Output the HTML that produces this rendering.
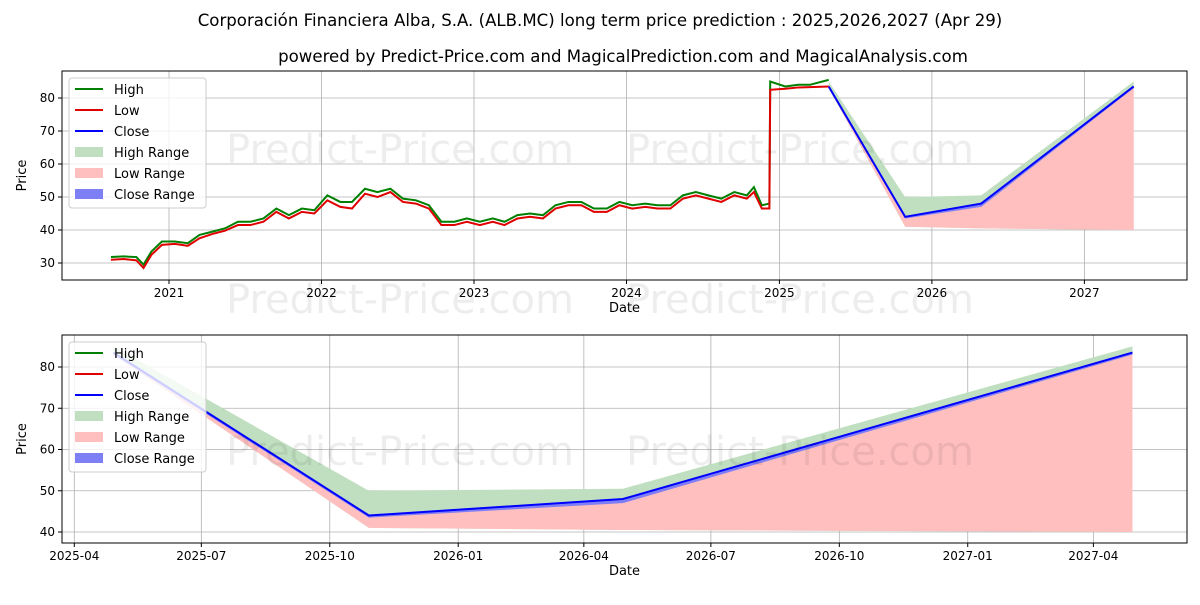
<!DOCTYPE html>
<html><head><meta charset="utf-8">
<style>
body{margin:0;background:#fff;font-family:"Liberation Sans","DejaVu Sans",sans-serif;}
svg text{font-family:"DejaVu Sans","Liberation Sans",sans-serif;}
</style></head>
<body>
<svg id="c" width="1200" height="600" xmlns="http://www.w3.org/2000/svg">
<rect width="1200" height="600" fill="#fff"/>
<text x="600" y="26" text-anchor="middle" font-size="16.6">Corporación Financiera Alba, S.A. (ALB.MC) long term price prediction : 2025,2026,2027 (Apr 29)</text>
<text x="623" y="62" text-anchor="middle" font-size="16.6">powered by Predict-Price.com and MagicalPrediction.com and MagicalAnalysis.com</text>
</svg>
<script>
// historic data
const histDates=["2020-08-15","2020-09-15","2020-10-15","2020-11-01","2020-11-20","2020-12-15","2021-01-15","2021-02-15","2021-03-15","2021-04-15","2021-05-15","2021-06-15","2021-07-15","2021-08-15","2021-09-15","2021-10-15","2021-11-15","2021-12-15","2022-01-15","2022-02-15","2022-03-15","2022-04-15","2022-05-15","2022-06-15","2022-07-15","2022-08-15","2022-09-15","2022-10-15","2022-11-15","2022-12-15","2023-01-15","2023-02-15","2023-03-15","2023-04-15","2023-05-15","2023-06-15","2023-07-15","2023-08-15","2023-09-15","2023-10-15","2023-11-15","2023-12-15","2024-01-15","2024-02-15","2024-03-15","2024-04-15","2024-05-15","2024-06-15","2024-07-15","2024-08-15","2024-09-15","2024-10-15","2024-11-01","2024-11-20","2024-12-08","2024-12-10","2025-01-15","2025-02-15","2025-03-15","2025-04-29"];
const histHigh=[31.8,32,31.8,29.5,33.5,36.5,36.5,36,38.5,39.5,40.5,42.5,42.5,43.5,46.5,44.5,46.5,46,50.5,48.5,48.5,52.5,51.5,52.5,49.5,49,47.5,42.5,42.5,43.5,42.5,43.5,42.5,44.5,45,44.5,47.5,48.5,48.5,46.5,46.5,48.5,47.5,48,47.5,47.5,50.5,51.5,50.5,49.5,51.5,50.5,53,47.5,48,85,83.5,84,84,85.5];
const histLow=[31,31.2,30.8,28.5,32.5,35.5,35.8,35.2,37.5,38.8,39.8,41.5,41.5,42.5,45.5,43.5,45.5,45,49,47,46.5,51,50,51.5,48.5,48,46.5,41.5,41.5,42.5,41.5,42.5,41.5,43.5,44,43.5,46.5,47.5,47.5,45.5,45.5,47.5,46.5,47,46.5,46.5,49.5,50.5,49.5,48.5,50.5,49.5,51.5,46.5,46.5,82.5,82.8,83.2,83.3,83.5];
// prediction data
const predDates=["2025-04-29","2025-10-29","2026-04-29","2027-04-29"];
const predHigh=[85,50,50.5,85];
const predLow=[83,41,40.5,40];
const predClose=[83.5,44,48,83.5];
const predCloseLow=[83,43.5,47,83];
const topTicksY=[30,40,50,60,70,80];
const topTicksX=["2021","2022","2023","2024","2025","2026","2027"];
const botTicksY=[40,50,60,70,80];
const botTicksX=["2025-04","2025-07","2025-10","2026-01","2026-04","2026-07","2026-10","2027-01","2027-04"];

const svg=document.getElementById('c');const NS="http://www.w3.org/2000/svg";
function el(t,a,p){const e=document.createElementNS(NS,t);for(const k in a)e.setAttribute(k,a[k]);(p||svg).appendChild(e);return e;}
function d(s){return new Date(s+(s.length==7?"-01":"")+"T00:00:00Z").getTime()/86400000;}
const T={l:62,r:1187,t:71,b:280,x:s=>169+(d(s)-d("2021-01-01"))*152.6/365.25,y:v=>263-(v-30)*3.3,xt:topTicksX.map(s=>s+"-01-01"),yt:topTicksY};
const B={l:62,r:1187,t:335,b:543,x:s=>74.3+(d(s)-d("2025-04-01"))*1.396,y:v=>532-(v-40)*4.125,xt:botTicksX,yt:botTicksY};
function poly(xs,ys1,ys2,ax){let p=xs.map((s,i)=>ax.x(s)+","+ax.y(ys1[i]));for(let i=xs.length-1;i>=0;i--)p.push(ax.x(xs[i])+","+ax.y(ys2[i]));return p.join(" ");}
function line(xs,ys,ax){return xs.map((s,i)=>ax.x(s)+","+ax.y(ys[i])).join(" ");}
function axes(ax,name,labels,hist){
  const g=el('g',{});
  el('clipPath',{id:name+'-clip'},g);el('rect',{x:ax.l,y:ax.t,width:ax.r-ax.l,height:ax.b-ax.t},g.lastChild);
  const gr=el('g',{},g);
  ax.xt.forEach((s,i)=>{const x=ax.x(s);el('line',{x1:x,x2:x,y1:ax.t,y2:ax.b,stroke:'#b0b0b0','stroke-width':0.8},gr);el('line',{x1:x,x2:x,y1:ax.b,y2:ax.b+4,stroke:'#000'},gr);const t=el('text',{x:x,y:ax.b+17,'text-anchor':'middle','font-size':12},gr);t.textContent=labels[i];});
  ax.yt.forEach(v=>{const y=ax.y(v);el('line',{x1:ax.l,x2:ax.r,y1:y,y2:y,stroke:'#b0b0b0','stroke-width':0.8},gr);el('line',{x1:ax.l-4,x2:ax.l,y1:y,y2:y,stroke:'#000'},gr);const t=el('text',{x:ax.l-7,y:y+4,'text-anchor':'end','font-size':12},gr);t.textContent=v;});
  const wm=[[400,ax===T?163:465],[800,ax===T?163:465]];if(ax===T){wm.push([400,313],[800,313]);}
  wm.forEach(p=>{const t=el('text',{x:p[0],y:p[1],'text-anchor':'middle','font-size':40,fill:'#000','fill-opacity':0.07});t.textContent="Predict-Price.com";});
  const c=el('g',{'clip-path':`url(#${name}-clip)`},g);
  const hr=el('polygon',{points:poly(predDates,predHigh,predLow,ax),fill:'#c0dfc0'},c);
  const lr=el('polygon',{points:poly(predDates,predClose.map((v,i)=>Math.min(v,predHigh[i])),predLow,ax),fill:'#ffbfbf'},c);
  const cr=el('polygon',{points:poly(predDates,predClose,predCloseLow,ax),fill:'#7f7ff5'},c);
  if(hist){
    const h=el('polyline',{points:line(histDates,histHigh,ax),fill:'none',stroke:'#008000','stroke-width':2},c);
    const l=el('polyline',{points:line(histDates,histLow,ax),fill:'none',stroke:'#e00000','stroke-width':2},c);
  }
  const cl=el('polyline',{points:line(predDates,predClose,ax),fill:'none',stroke:'#0000ff','stroke-width':2},c);
  el('rect',{x:ax.l,y:ax.t,width:ax.r-ax.l,height:ax.b-ax.t,fill:'none',stroke:'#000','stroke-width':1},g);
  const xl=el('text',{x:(ax.l+ax.r)/2,y:ax.b+32,'text-anchor':'middle','font-size':13},g);xl.textContent="Date";
  const ym=(ax.t+ax.b)/2;const yl=el('text',{x:26,y:ym,'text-anchor':'middle','font-size':13,transform:`rotate(-90 26 ${ym})`},g);yl.textContent="Price";
  const lg=el('g',{},g);
  const ly=ax.t+7;el('rect',{x:69,y:ly,width:137,height:130,rx:3,fill:'#fff','fill-opacity':0.8,stroke:'#ccc'},lg);
  const items=[["High","line","#008000"],["Low","line","#e00000"],["Close","line","#0000ff"],["High Range","patch","#c0dfc0"],["Low Range","patch","#ffbfbf"],["Close Range","patch","#7f7ff5"]];
  items.forEach((it,i)=>{const y=ly+11+i*21;const e=el('g',{},lg);
    if(it[1]=="line")el('line',{x1:75,x2:103,y1:y,y2:y,stroke:it[2],'stroke-width':2},e);else el('rect',{x:75,y:y-5,width:28,height:10,fill:it[2]},e);
    const t=el('text',{x:114,y:y+5,'font-size':13},e);t.textContent=it[0];});
}
axes(T,'top-chart',topTicksX,true);
axes(B,'bottom-chart',botTicksX,false);
</script>
</body></html>
